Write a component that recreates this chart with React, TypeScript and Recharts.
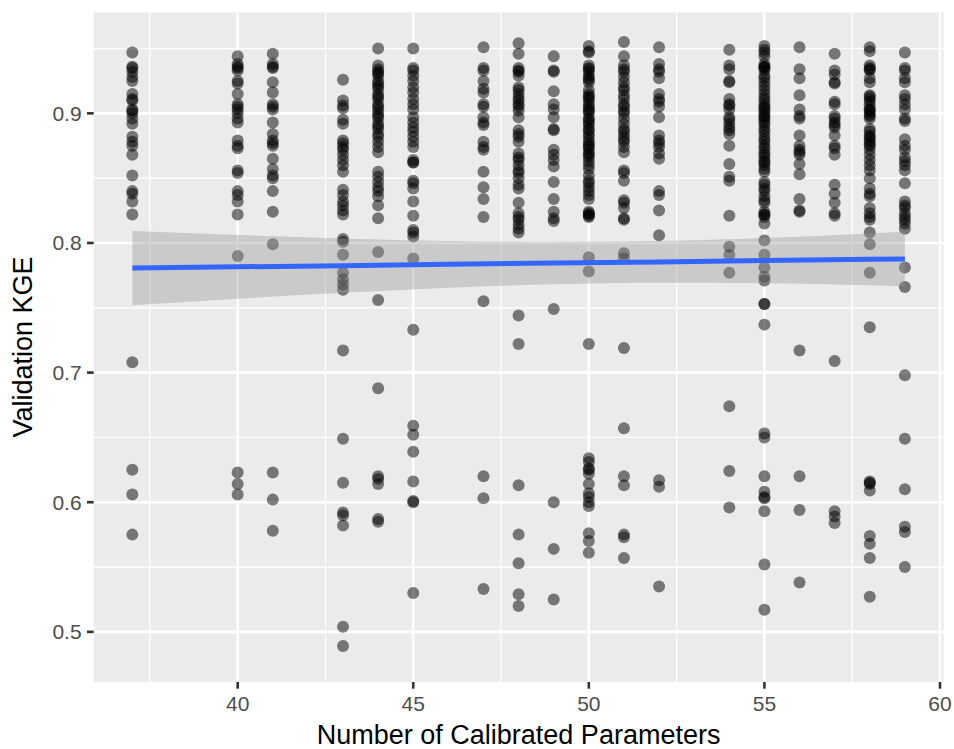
import React from 'react';
import {
  ComposedChart,
  Scatter,
  Line,
  Area,
  XAxis,
  YAxis,
  CartesianGrid,
} from 'recharts';

// Validation KGE vs number of calibrated parameters, one list per column
const KGE_37 = [0.947, 0.936, 0.935, 0.932, 0.928, 0.925, 0.915, 0.911, 0.91, 0.903, 0.902, 0.9, 0.896, 0.892, 0.882, 0.878, 0.875, 0.868, 0.852, 0.84, 0.838, 0.832, 0.822, 0.708, 0.625, 0.606, 0.575];
const KGE_40 = [0.944, 0.938, 0.936, 0.935, 0.933, 0.925, 0.923, 0.915, 0.907, 0.905, 0.903, 0.9, 0.896, 0.893, 0.879, 0.875, 0.873, 0.856, 0.854, 0.84, 0.837, 0.832, 0.822, 0.79, 0.623, 0.614, 0.606];
const KGE_41 = [0.946, 0.938, 0.936, 0.935, 0.924, 0.916, 0.907, 0.905, 0.903, 0.893, 0.884, 0.879, 0.877, 0.875, 0.865, 0.857, 0.852, 0.85, 0.84, 0.824, 0.799, 0.623, 0.602, 0.578];
const KGE_43 = [0.926, 0.91, 0.906, 0.904, 0.895, 0.892, 0.879, 0.877, 0.874, 0.872, 0.868, 0.864, 0.86, 0.855, 0.841, 0.837, 0.832, 0.829, 0.825, 0.822, 0.803, 0.801, 0.791, 0.777, 0.772, 0.768, 0.764, 0.717, 0.649, 0.615, 0.592, 0.59, 0.582, 0.504, 0.489];
const KGE_44 = [0.95, 0.937, 0.934, 0.932, 0.931, 0.929, 0.925, 0.923, 0.921, 0.919, 0.915, 0.913, 0.911, 0.907, 0.905, 0.903, 0.9, 0.898, 0.896, 0.892, 0.89, 0.888, 0.884, 0.882, 0.878, 0.874, 0.87, 0.855, 0.851, 0.847, 0.843, 0.84, 0.836, 0.829, 0.819, 0.793, 0.756, 0.688, 0.62, 0.618, 0.614, 0.587, 0.585];
const KGE_45 = [0.95, 0.935, 0.933, 0.929, 0.925, 0.92, 0.916, 0.911, 0.907, 0.903, 0.897, 0.893, 0.889, 0.886, 0.882, 0.878, 0.874, 0.864, 0.862, 0.862, 0.848, 0.846, 0.842, 0.832, 0.821, 0.81, 0.808, 0.805, 0.788, 0.733, 0.659, 0.652, 0.639, 0.616, 0.601, 0.6, 0.53];
const KGE_47 = [0.951, 0.935, 0.933, 0.925, 0.919, 0.916, 0.907, 0.905, 0.897, 0.893, 0.891, 0.878, 0.874, 0.872, 0.855, 0.843, 0.834, 0.82, 0.755, 0.62, 0.603, 0.533];
const KGE_48 = [0.954, 0.946, 0.935, 0.933, 0.932, 0.929, 0.92, 0.918, 0.915, 0.912, 0.91, 0.907, 0.905, 0.902, 0.897, 0.887, 0.884, 0.882, 0.878, 0.869, 0.866, 0.864, 0.86, 0.856, 0.854, 0.85, 0.845, 0.842, 0.831, 0.823, 0.82, 0.818, 0.814, 0.811, 0.808, 0.744, 0.722, 0.613, 0.575, 0.553, 0.529, 0.52];
const KGE_49 = [0.944, 0.933, 0.932, 0.917, 0.907, 0.903, 0.897, 0.888, 0.887, 0.872, 0.868, 0.864, 0.859, 0.847, 0.834, 0.824, 0.819, 0.817, 0.749, 0.6, 0.564, 0.525];
const KGE_50 = [0.952, 0.948, 0.947, 0.937, 0.935, 0.934, 0.932, 0.929, 0.927, 0.926, 0.924, 0.918, 0.915, 0.913, 0.912, 0.91, 0.907, 0.905, 0.903, 0.902, 0.9, 0.896, 0.895, 0.893, 0.891, 0.888, 0.887, 0.884, 0.882, 0.879, 0.877, 0.875, 0.874, 0.872, 0.869, 0.868, 0.866, 0.863, 0.86, 0.857, 0.852, 0.848, 0.846, 0.843, 0.84, 0.837, 0.834, 0.824, 0.823, 0.822, 0.821, 0.82, 0.789, 0.778, 0.722, 0.634, 0.631, 0.626, 0.625, 0.622, 0.614, 0.607, 0.604, 0.6, 0.597, 0.576, 0.57, 0.561];
const KGE_51 = [0.955, 0.944, 0.937, 0.934, 0.932, 0.928, 0.924, 0.92, 0.918, 0.914, 0.911, 0.907, 0.905, 0.902, 0.9, 0.896, 0.892, 0.888, 0.886, 0.883, 0.88, 0.878, 0.874, 0.87, 0.856, 0.854, 0.848, 0.833, 0.831, 0.827, 0.819, 0.818, 0.792, 0.788, 0.719, 0.657, 0.62, 0.613, 0.575, 0.573, 0.557];
const KGE_52 = [0.951, 0.938, 0.934, 0.932, 0.927, 0.915, 0.911, 0.909, 0.905, 0.897, 0.883, 0.879, 0.877, 0.874, 0.869, 0.865, 0.84, 0.837, 0.825, 0.806, 0.617, 0.612, 0.535];
const KGE_54 = [0.949, 0.937, 0.934, 0.925, 0.924, 0.911, 0.907, 0.906, 0.903, 0.897, 0.895, 0.892, 0.889, 0.887, 0.884, 0.875, 0.861, 0.851, 0.848, 0.821, 0.797, 0.791, 0.777, 0.674, 0.624, 0.596];
const KGE_55 = [0.952, 0.949, 0.947, 0.944, 0.938, 0.936, 0.936, 0.935, 0.933, 0.929, 0.927, 0.924, 0.921, 0.918, 0.915, 0.912, 0.91, 0.907, 0.905, 0.904, 0.902, 0.9, 0.898, 0.897, 0.895, 0.893, 0.891, 0.888, 0.886, 0.883, 0.88, 0.878, 0.875, 0.873, 0.87, 0.868, 0.866, 0.863, 0.862, 0.86, 0.857, 0.855, 0.847, 0.845, 0.842, 0.84, 0.836, 0.833, 0.831, 0.824, 0.822, 0.822, 0.82, 0.815, 0.802, 0.791, 0.781, 0.774, 0.771, 0.753, 0.753, 0.737, 0.653, 0.65, 0.62, 0.608, 0.604, 0.603, 0.593, 0.552, 0.517];
const KGE_56 = [0.951, 0.934, 0.927, 0.914, 0.903, 0.898, 0.896, 0.883, 0.875, 0.872, 0.87, 0.868, 0.861, 0.853, 0.834, 0.825, 0.824, 0.717, 0.62, 0.594, 0.538];
const KGE_57 = [0.946, 0.933, 0.93, 0.924, 0.923, 0.909, 0.907, 0.898, 0.896, 0.893, 0.891, 0.889, 0.883, 0.875, 0.873, 0.868, 0.845, 0.838, 0.831, 0.823, 0.821, 0.709, 0.593, 0.589, 0.584];
const KGE_58 = [0.951, 0.948, 0.937, 0.935, 0.934, 0.933, 0.927, 0.924, 0.914, 0.913, 0.911, 0.909, 0.906, 0.903, 0.903, 0.901, 0.899, 0.898, 0.896, 0.888, 0.886, 0.883, 0.882, 0.88, 0.878, 0.876, 0.875, 0.872, 0.868, 0.864, 0.86, 0.856, 0.85, 0.842, 0.838, 0.836, 0.827, 0.823, 0.82, 0.818, 0.808, 0.799, 0.777, 0.735, 0.616, 0.615, 0.614, 0.609, 0.574, 0.568, 0.557, 0.527];
const KGE_59 = [0.947, 0.935, 0.933, 0.927, 0.924, 0.914, 0.911, 0.907, 0.903, 0.896, 0.894, 0.88, 0.875, 0.872, 0.866, 0.863, 0.86, 0.856, 0.846, 0.832, 0.829, 0.827, 0.823, 0.82, 0.818, 0.815, 0.811, 0.781, 0.766, 0.698, 0.649, 0.61, 0.581, 0.577, 0.55];

const COLUMNS: [number, number[]][] = [
  [37, KGE_37], [40, KGE_40], [41, KGE_41], [43, KGE_43], [44, KGE_44],
  [45, KGE_45], [47, KGE_47], [48, KGE_48], [49, KGE_49], [50, KGE_50],
  [51, KGE_51], [52, KGE_52], [54, KGE_54], [55, KGE_55], [56, KGE_56],
  [57, KGE_57], [58, KGE_58], [59, KGE_59],
];

// linear fit and its confidence band
const FIT_X = [37, 40, 43, 46, 49, 52, 55, 58, 59];
const FIT_Y = [0.7806, 0.7816, 0.7825, 0.7835, 0.7845, 0.7854, 0.7864, 0.7874, 0.7877];
const BAND_LO = [0.7519, 0.757, 0.7615, 0.7654, 0.7681, 0.7693, 0.769, 0.7674, 0.7667];
const BAND_HI = [0.8093, 0.8062, 0.8035, 0.8016, 0.8009, 0.8015, 0.8038, 0.8074, 0.8087];

const X_TICKS = [40, 45, 50, 55, 60];
const X_MINOR = [37.5, 42.5, 47.5, 52.5, 57.5];
const Y_TICKS = [0.5, 0.6, 0.7, 0.8, 0.9];
const Y_MINOR = [0.55, 0.65, 0.75, 0.85, 0.95];

const POINTS = COLUMNS.flatMap(([x, ys]) => ys.map((y) => ({ x, y })));
const FIT_ROWS = FIT_X.map((x, i) => ({ x, fit: FIT_Y[i], band: [BAND_LO[i], BAND_HI[i]] }));

const FONT = '"Liberation Sans", Arial, Helvetica, sans-serif';

function Dot(props: any) {
  const { cx, cy } = props;
  if (cx == null || cy == null) return null;
  return <circle cx={cx} cy={cy} r={6} fill="#000" fillOpacity={0.5} />;
}

export default function App() {
  return (
    <div style={{ position: 'absolute', left: 0, top: 0, width: 954, height: 749, background: '#fff', fontFamily: FONT }}>
      <ComposedChart
        width={954}
        height={749}
        data={FIT_ROWS}
        margin={{ top: 12.5, right: 10.5, bottom: 0, left: 0 }}
      >
        <CartesianGrid
          fill="#EBEBEB"
          stroke="#fff"
          strokeWidth={1.3}
          horizontalValues={Y_MINOR}
          verticalValues={X_MINOR}
        />
        <CartesianGrid
          stroke="#fff"
          strokeWidth={2.6}
          horizontalValues={Y_TICKS}
          verticalValues={X_TICKS}
        />
        <XAxis
          dataKey="x"
          type="number"
          domain={[35.9, 60.1]}
          allowDataOverflow
          ticks={X_TICKS}
          height={67}
          axisLine={false}
          tickSize={6.7}
          tickLine={{ stroke: '#333', strokeWidth: 2.6 }}
          tick={{ fill: '#4D4D4D', fontSize: 21, fontFamily: FONT }}
          tickMargin={7}
        />
        <YAxis
          dataKey="y"
          type="number"
          domain={[0.4613, 0.9778]}
          allowDataOverflow
          ticks={Y_TICKS}
          width={93.7}
          axisLine={false}
          tickSize={6.7}
          tickLine={{ stroke: '#333', strokeWidth: 2.6 }}
          tick={{ fill: '#4D4D4D', fontSize: 21, fontFamily: FONT }}
          tickMargin={5.4}
          tickFormatter={(v: number) => v.toFixed(1)}
        />
        <Scatter data={POINTS} dataKey="y" shape={<Dot />} zIndex={50} isAnimationActive={false} />
        <Area
          dataKey="band"
          type="monotone"
          fill="#999999"
          fillOpacity={0.4}
          stroke="none"
          zIndex={100}
          isAnimationActive={false}
        />
        <Line
          dataKey="fit"
          type="linear"
          stroke="#3366FF"
          strokeWidth={5}
          dot={false}
          zIndex={400}
          isAnimationActive={false}
        />
      </ComposedChart>
      <div style={{ position: 'absolute', left: 93.7, width: 849.8, top: 722, textAlign: 'center', fontSize: 27, lineHeight: '27px', color: '#000', whiteSpace: 'nowrap' }}>
        Number of Calibrated Parameters
      </div>
      <div
        style={{
          position: 'absolute',
          left: 23,
          top: 347,
          transform: 'translate(-50%, -50%) rotate(-90deg)',
          whiteSpace: 'nowrap',
          fontSize: 27,
          lineHeight: '27px',
          color: '#000',
        }}
      >
        Validation KGE
      </div>
    </div>
  );
}
